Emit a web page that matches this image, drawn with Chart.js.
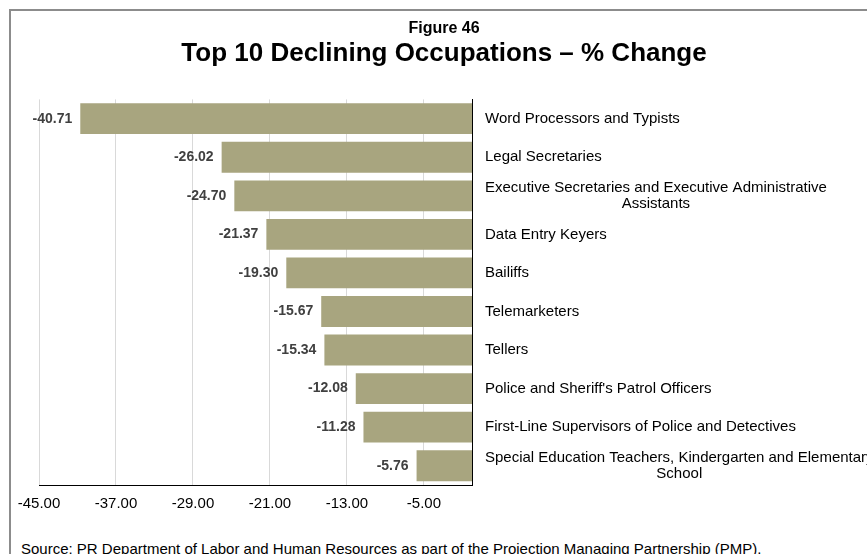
<!DOCTYPE html>
<html>
<head>
<meta charset="utf-8">
<script src="https://cdn.jsdelivr.net/npm/chart.js@4/dist/chart.umd.min.js"></script>
<style>
  html, body { margin: 0; padding: 0; overflow: hidden; background: #fff; }
  #frame { position: absolute; left: 9px; top: 9px; width: 880px; height: 600px; border: 2px solid #8c8c8c; }
  #chart { display: block; }
  #source { position: absolute; left: 21px; top: 540px; font: 15px Arial, "Liberation Sans", sans-serif; line-height: 17px; color: #000; white-space: nowrap; }
</style>
</head>
<body>
<div id="frame"><canvas id="chart" width="866" height="514"></canvas></div>
<div id="source">Source: PR Department of Labor and Human Resources as part of the Projection Managing Partnership (PMP).</div>
<script>
const FONT = 'Arial, "Liberation Sans", sans-serif';

const categories = [
  'Word Processors and Typists',
  'Legal Secretaries',
  ['Executive Secretaries and Executive Administrative', 'Assistants'],
  'Data Entry Keyers',
  'Bailiffs',
  'Telemarketers',
  'Tellers',
  "Police and Sheriff's Patrol Officers",
  'First-Line Supervisors of Police and Detectives',
  ['Special Education Teachers, Kindergarten and Elementary', 'School']
];
const pctChange = [-40.71, -26.02, -24.70, -21.37, -19.30, -15.67, -15.34, -12.08, -11.28, -5.76];
const xTicks = [-45, -37, -29, -21, -13, -5];

// value labels next to bars + category names on the right (2nd line centered)
const labelPlugin = {
  id: 'barLabels',
  afterDatasetsDraw(chart) {
    const { ctx, chartArea, scales: { y } } = chart;
    const meta = chart.getDatasetMeta(0);
    ctx.save();
    ctx.font = 'bold 14px ' + FONT;
    ctx.fillStyle = '#404040';
    ctx.textAlign = 'right';
    ctx.textBaseline = 'middle';
    meta.data.forEach((bar, i) => {
      ctx.fillText(pctChange[i].toFixed(2), bar.x - 8, bar.y);
    });
    ctx.font = '15px ' + FONT;
    ctx.fillStyle = '#000';
    ctx.textAlign = 'center';
    categories.forEach((cat, i) => {
      const lines = [].concat(cat);
      const w = Math.max(...lines.map(l => ctx.measureText(l).width));
      const cx = chartArea.right + 13 + w / 2;
      const yc = y.getPixelForValue(i);
      lines.forEach((l, j) => {
        ctx.fillText(l, cx, yc + (j - (lines.length - 1) / 2) * 16);
      });
    });
    ctx.restore();
  }
};

new Chart(document.getElementById('chart'), {
  type: 'bar',
  data: {
    labels: categories,
    datasets: [{
      data: pctChange,
      backgroundColor: '#a8a57f',
      borderWidth: 0,
      barPercentage: 0.8,
      categoryPercentage: 1
    }]
  },
  options: {
    indexAxis: 'y',
    responsive: false,
    animation: false,
    layout: { padding: 0 },
    plugins: {
      legend: { display: false },
      tooltip: { enabled: false },
      title: {
        display: true,
        text: 'Figure 46',
        color: '#000',
        font: { family: FONT, size: 16, weight: 'bold' },
        padding: { top: 8, bottom: 0 }
      },
      subtitle: {
        display: true,
        text: 'Top 10 Declining Occupations \u2013 % Change',
        color: '#000',
        font: { family: FONT, size: 26, weight: 'bold' },
        padding: { top: 0, bottom: 30 }
      }
    },
    scales: {
      x: {
        min: -45,
        max: 0,
        afterBuildTicks: scale => { scale.ticks = xTicks.map(v => ({ value: v })); },
        afterFit: scale => { scale.paddingLeft = 28; scale.height = 40; },
        grid: { color: '#d9d9d9', drawTicks: false },
        border: { color: '#000', width: 1 },
        ticks: {
          color: '#000',
          padding: 10,
          font: { family: FONT, size: 15 },
          maxRotation: 0,
          callback: v => v.toFixed(2)
        }
      },
      y: {
        position: 'right',
        afterFit: scale => { scale.width = 405; },
        grid: { display: false },
        border: { color: '#000', width: 1 },
        ticks: { display: false }
      }
    }
  },
  plugins: [labelPlugin]
});
</script>
</body>
</html>
